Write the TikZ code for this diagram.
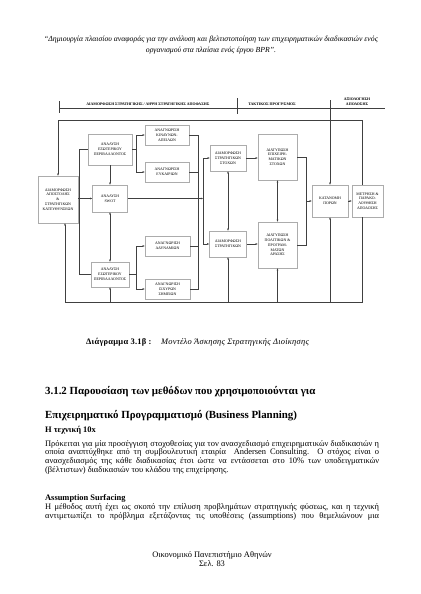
\documentclass[tikz,border=0pt]{standalone}
\usepackage{fontspec}
\setmainfont{Liberation Serif}
\usetikzlibrary{arrows.meta}

\tikzset{
  box/.style={draw=gray!65, line width=0.7pt, fill=white, align=center, inner sep=1pt,
    font=\fontsize{5.5}{6.8}\selectfont},
  hdr/.style={inner sep=0pt, align=center, font=\fontsize{5.5}{6.5}\bfseries},
  arr/.style={-{Latex[length=3pt,width=2.6pt]}, gray!50!black, line width=0.45pt},
  arrb/.style={{Latex[length=3pt,width=2.6pt]}-{Latex[length=3pt,width=2.6pt]}, gray!50!black, line width=0.45pt},
  link/.style={gray!50!black, line width=0.45pt},
  txt/.style={anchor=west, inner sep=0pt, font=\fontsize{12}{14}\selectfont},
}

\begin{document}
\begin{tikzpicture}[x=0.5mm, y=-0.5mm]

    % page
    \fill[white] (0,0) rectangle (420,594);
    \useasboundingbox (0,0) rectangle (420,594);

    % running head
    \node[inner sep=0pt, font=\fontsize{11}{12}\itshape] (head1) at (211,40) {“Δημιουργία πλαισίου αναφοράς για την ανάλυση και βελτιστοποίηση των επιχειρηματικών διαδικασιών ενός};
    \node[inner sep=0pt, font=\fontsize{11}{12}\itshape] (head2) at (211,50.5) {οργανισμού στα πλαίσια ενός έργου BPR”.};

    % phases
    \draw[link] (59,108) -- (385,108);
    \draw[link] (59,101) -- (59,113);
    \draw[link] (237,98) -- (237,114);
    \node[hdr] (phase1) at (148,104.5) {ΔΙΑΜΟΡΦΩΣΗ ΣΤΡΑΤΗΓΙΚΗΣ / ΛΗΨΗ ΣΤΡΑΤΗΓΙΚΗΣ ΑΠΟΦΑΣΗΣ};
    \node[hdr] (phase2) at (272,104.5) {ΤΑΚΤΙΚΟΣ ΠΡΟΓΡ/ΣΜΟΣ};
    \node[hdr] (phase3) at (357,101.5) {ΑΞΙΟΛΟΓΗΣΗ\\ΑΠΟΔΟΣΗΣ};

    % boxes
    \node[box, minimum width=20mm, minimum height=23.5mm] (apost) at (58,199.5) {ΔΙΑΜΟΡΦΩΣΗ\\ΑΠΟΣΤΟΛΗΣ\\\&\\ΣΤΡΑΤΗΓΙΚΩΝ\\ΚΑΤΕΥΘΥΝΣΕΩΝ};
    \node[box, minimum width=22mm, minimum height=15.5mm] (exot) at (110,149.5) {ΑΝΑΛΥΣΗ\\ΕΞΩΤΕΡΙΚΟΥ\\ΠΕΡΙΒΑΛΛΟΝΤΟΣ};
    \node[box, minimum width=17.5mm, minimum height=13.5mm] (swot) at (110,198.5) {ΑΝΑΛΥΣΗ\\SWOT};
    \node[box, minimum width=19mm, minimum height=12.5mm] (esot) at (110,274.5) {ΑΝΑΛΥΣΗ\\ΕΣΩΤΕΡΙΚΟΥ\\ΠΕΡΙΒΑΛΛΟΝΤΟΣ};
    \node[box, minimum width=22mm, minimum height=10mm] (kind) at (167,135) {ΑΝΑΓΝΩΡΙΣΗ\\ΚΙΝΔΥΝΩΝ-\\ΑΠΕΙΛΩΝ};
    \node[box, minimum width=22mm, minimum height=10mm] (euk) at (167,172) {ΑΝΑΓΝΩΡΙΣΗ\\ΕΥΚΑΙΡΙΩΝ};
    \node[box, minimum width=22.5mm, minimum height=10mm] (adyn) at (167.5,246) {ΑΝΑΓΝΩΡΙΣΗ\\ΑΔΥΝΑΜΙΩΝ};
    \node[box, minimum width=22.5mm, minimum height=10mm] (isx) at (167.5,289) {ΑΝΑΓΝΩΡΙΣΗ\\ΙΣΧΥΡΩΝ\\ΣΗΜΕΙΩΝ};
    \node[box, minimum width=18mm, minimum height=13mm] (stox) at (228,158) {ΔΙΑΜΟΡΦΩΣΗ\\ΣΤΡΑΤΗΓΙΚΩΝ\\ΣΤΟΧΩΝ};
    \node[box, minimum width=18.5mm, minimum height=13mm] (strat) at (228,244) {ΔΙΑΜΟΡΦΩΣΗ\\ΣΤΡΑΤΗΓΙΚΩΝ};
    \node[box, minimum width=19.5mm, minimum height=23mm] (epix) at (277.5,157) {ΔΙΑΤΥΠΩΣΗ\\ΕΠΙΧΕΙΡΗ-\\ΜΑΤΙΚΩΝ\\ΣΤΟΧΩΝ};
    \node[box, minimum width=19.5mm, minimum height=23mm] (polit) at (277.5,245) {ΔΙΑΤΥΠΩΣΗ\\ΠΟΛΙΤΙΚΩΝ \&\\ΠΡΟΓΡΑΜ-\\ΜΑΤΩΝ\\ΔΡΑΣΗΣ};
    \node[box, minimum width=18mm, minimum height=16mm] (katan) at (330,201) {ΚΑΤΑΝΟΜΗ\\ΠΟΡΩΝ};
    \node[box, minimum width=15.5mm, minimum height=16mm] (metr) at (367.5,201) {ΜΕΤΡΗΣΗ \&\\ΠΑΡΑΚΟ-\\ΛΟΥΘΗΣΗ\\ΑΠΟΔΟΣΗΣ};

    % junction points
    \coordinate (tl) at (58,120);
    \coordinate (tr) at (362,120);
    \coordinate (bl) at (65,302);
    \coordinate (br) at (362,302);
    \coordinate (exj) at (136,149.5);
    \coordinate (esj) at (136,274.5);
    \coordinate (busa) at (198,0);
    \coordinate (busb) at (203,0);
    \coordinate (ej) at (306,0);

    % left part
    \draw[arr] (apost.east |- swot) -- (swot.west);
    \draw[arr] (exot.south) -- (swot.north);
    \draw[arrb] (swot.south) -- (esot.north);
    \draw[link] (exot.west) -- ++(-9,0) |- (esot.west);
    \draw[link] (exot.east) -- (exj);
    \draw[arr] (exj) |- (kind.west);
    \draw[arr] (exj) |- (euk.west);
    \draw[link] (esot.east) -- (esj);
    \draw[arr] (esj) |- (adyn.west);
    \draw[arr] (esj) |- (isx.west);

    % collecting lines
    \draw[link] (kind.east) -| (isx.east -| busa) -- (isx.east);
    \draw[link] (euk.east) -- (euk.east -| busa);
    \draw[link] (adyn.east) -- (adyn.east -| busa);
    \draw[link] (stox.west -| busb) -- (strat.west -| busb);
    \draw[arr] (swot.east) -- (swot.east -| busb);
    \draw[arr] (stox.west -| busb) -- (stox.west);
    \draw[arr] (strat.west -| busb) -- (strat.west);

    % right part
    \draw[arr] (stox.east) -- (epix.west |- stox.east);
    \draw[arr] (strat.east) -- (polit.west |- strat.east);
    \draw[arrb] (stox.south) -- (strat.north);
    \draw[arrb] (epix.south) -- (polit.north);
    \draw[link] (epix.east) -| (polit.east -| ej) -- (polit.east);
    \draw[arr] (katan.west -| ej) -- (katan.west);
    \draw[arr] (katan.east) -- (metr.west);
    \draw[arr] (katan.north |- 0,100) -- (katan.north);

    % feedback loops
    \draw[arr] (metr.north -| tr) -- (tr) -- (tl) -- (apost.north);
    \draw[arr] (metr.south -| br) -- (br) -- (bl) -- (apost.south -| bl);
    \draw[arr] (esot.south |- bl) -- (esot.south);
    \draw[arr] (strat.south |- bl) -- (strat.south);
    \draw[arr] (polit.south |- bl) -- (polit.south);
    \draw[arr] (katan.south |- bl) -- (katan.south);

    % caption
    \node[txt, font=\fontsize{12}{14}\bfseries\addfontfeatures{LetterSpace=3}] (capnum) at (86,342) {Διάγραμμα 3.1β :};
    \node[txt, font=\fontsize{12}{14}\itshape\addfontfeatures{LetterSpace=3}] (captext) at (161,342) {Μοντέλο Άσκησης Στρατηγικής Διοίκησης};

    % section heading
    \node[txt, font=\fontsize{15.5}{18}\bfseries] (sec1) at (45,392) {3.1.2 Παρουσίαση των μεθόδων που χρησιμοποιούνται για};
    \node[txt, font=\fontsize{15.5}{18}\bfseries] (sec2) at (45,415.5) {Επιχειρηματικό Προγραμματισμό (Business Planning)};

    % body text
    \node[txt, font=\fontsize{12}{14}\bfseries] (sub1) at (45,430) {Η τεχνική 10x};
    \node[txt] (p1) at (45,444) {\makebox[167mm][s]{Πρόκειται για μία προσέγγιση στοχοθεσίας για τον ανασχεδιασμό επιχειρηματικών διαδικασιών η}};
    \node[txt] (p2) at (45,452.7) {\makebox[167mm][s]{οποία αναπτύχθηκε από τη συμβουλευτική εταιρία \ Andersen Consulting. Ο στόχος είναι ο}};
    \node[txt] (p3) at (45,461.4) {\makebox[167mm][s]{ανασχεδιασμός της κάθε διαδικασίας έτσι ώστε να εντάσσεται στο 10\% των υποδειγματικών}};
    \node[txt] (p4) at (45,470) {(βέλτιστων) διαδικασιών του κλάδου της επιχείρησης.};

    \node[txt, font=\fontsize{12}{14}\bfseries] (sub2) at (45,498.3) {Assumption Surfacing};
    \node[txt] (q1) at (45,507.7) {\makebox[167mm][s]{Η μέθοδος αυτή έχει ως σκοπό την επίλυση προβλημάτων στρατηγικής φύσεως, και η τεχνική}};
    \node[txt] (q2) at (45,516.7) {\makebox[167mm][s]{αντιμετωπίζει το πρόβλημα εξετάζοντας τις υποθέσεις (assumptions) που θεμελιώνουν μια}};

    % footer
    \node[inner sep=0pt, font=\fontsize{12}{14}\selectfont] (foot1) at (212,555) {Οικονομικό Πανεπιστήμιο Αθηνών};
    \node[inner sep=0pt, font=\fontsize{12}{14}\selectfont] (foot2) at (212,563.3) {Σελ. 83};

\end{tikzpicture}
\end{document}
